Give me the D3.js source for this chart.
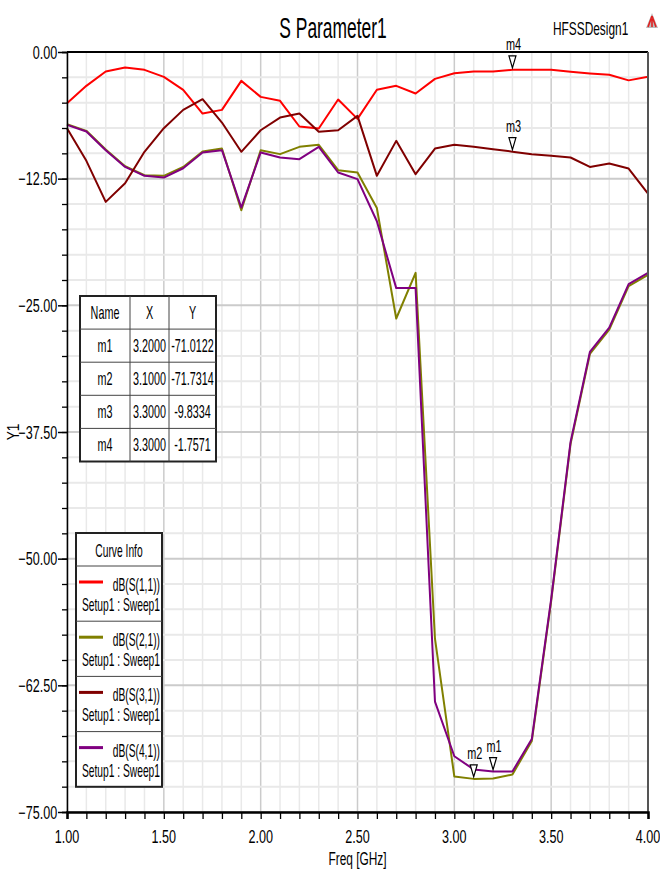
<!DOCTYPE html>
<html>
<head>
<meta charset="utf-8">
<script src="https://cdn.jsdelivr.net/npm/d3@7"></script>
<style>
body { margin: 0; background: #fff; }
text { font-family: "Liberation Sans", Arial, sans-serif; fill: #000; }
</style>
</head>
<body>
<script>
var freq = [1.0, 1.1, 1.2, 1.3, 1.4, 1.5, 1.6, 1.7, 1.8, 1.9, 2.0, 2.1, 2.2, 2.3, 2.4, 2.5,
            2.6, 2.7, 2.8, 2.9, 3.0, 3.1, 3.2, 3.3, 3.4, 3.5, 3.6, 3.7, 3.8, 3.9, 4.0];
var s11 = [-5.05, -3.34, -1.92, -1.53, -1.76, -2.45, -3.73, -6.07, -5.71, -2.85, -4.43, -4.82, -7.35, -7.55, -4.69, -6.6,
           -3.73, -3.34, -4.1, -2.65, -2.09, -1.92, -1.92, -1.7571, -1.76, -1.76, -1.96, -2.12, -2.25, -2.8, -2.45];
var s21 = [-7.12, -7.78, -9.62, -11.27, -12.16, -12.22, -11.34, -9.82, -9.53, -15.61, -9.69, -10.08, -9.36, -9.16, -11.66, -11.89,
           -15.4, -26.3, -21.8, -57.9, -71.5, -71.7314, -71.7, -71.3, -68.0, -54.2, -38.7, -29.8, -27.4, -23.1, -22.0];
var s31 = [-7.52, -10.74, -14.79, -12.95, -9.85, -7.52, -5.71, -4.66, -6.96, -9.85, -7.72, -6.47, -6.07, -7.88, -7.72, -6.3,
           -12.22, -8.77, -12.06, -9.53, -9.16, -9.36, -9.59, -9.8334, -10.08, -10.25, -10.41, -11.34, -11.01, -11.5, -13.97];
var s41 = [-7.19, -7.85, -9.69, -11.34, -12.22, -12.39, -11.47, -9.92, -9.69, -15.35, -9.92, -10.41, -10.58, -9.36, -11.89, -12.55,
           -16.7, -23.3, -23.3, -64.1, -69.5, -70.8, -71.0122, -71.0, -67.8, -54.0, -38.5, -29.6, -27.2, -22.9, -21.8];

var curveNames = ["dB(S(1,1))", "dB(S(2,1))", "dB(S(3,1))", "dB(S(4,1))"];
var curveColors = ["#ff0000", "#808000", "#800000", "#800080"];
var curveData = [s11, s21, s31, s41];

var xLabelTicks = [1.0, 1.5, 2.0, 2.5, 3.0, 3.5, 4.0];
var yLabelTicks = [0, -12.5, -25, -37.5, -50, -62.5, -75];

// markers
var markerNames = ["m1", "m2", "m3", "m4"];
var markerX = [3.2, 3.1, 3.3, 3.3];
var markerY = [-71.0122, -71.7314, -9.8334, -1.7571];

var W = 660, H = 870;
var pL = 67, pR = 648, pT = 52, pB = 812;

var svg = d3.select("body").append("svg")
    .attr("width", W)
    .attr("height", H);

var x = d3.scaleLinear().domain([1, 4]).range([pL, pR]);
var y = d3.scaleLinear().domain([-75, 0]).range([pB, pT]);

// minor grid every 0.1 GHz / 2.5 dB
var xMinor = d3.range(1, 4.001, 0.1);
var yMinor = d3.range(-75, 0.001, 2.5);

function label(g, px, py, s, size, sx, anchor) {
    return g.append("text")
        .attr("transform", "translate(" + px + "," + py + ") scale(" + sx + ",1)")
        .attr("text-anchor", anchor || "start")
        .attr("font-size", size)
        .text(s);
}

var grid = svg.append("g");
grid.selectAll("line.vx")
    .data(xMinor)
    .enter()
    .append("line")
    .attr("x1", function (d) { return x(d); })
    .attr("x2", function (d) { return x(d); })
    .attr("y1", pT)
    .attr("y2", pB)
    .attr("stroke", function (d) { return Math.abs(d * 2 - Math.round(d * 2)) < 1e-6 ? "#cbcbcb" : "#e9e9e9"; })
    .attr("stroke-width", 1.5);
grid.selectAll("line.hy")
    .data(yMinor)
    .enter()
    .append("line")
    .attr("x1", pL)
    .attr("x2", pR)
    .attr("y1", function (d) { return y(d); })
    .attr("y2", function (d) { return y(d); })
    .attr("stroke", function (d) { return Math.abs(d / 12.5 - Math.round(d / 12.5)) < 1e-6 ? "#cbcbcb" : "#e9e9e9"; })
    .attr("stroke-width", 2);

// curves
var line = d3.line()
    .x(function (d, i) { return x(freq[i]); })
    .y(function (d) { return y(d); });

var plotOrder = [1, 3, 0, 2];
svg.append("g").selectAll("path")
    .data(plotOrder)
    .enter()
    .append("path")
    .attr("d", function (k) { return line(curveData[k]); })
    .attr("fill", "none")
    .attr("stroke", function (k) { return curveColors[k]; })
    .attr("stroke-width", 2)
    .attr("stroke-linejoin", "round");

// border
svg.append("line").attr("x1", pL).attr("x2", pR).attr("y1", pT).attr("y2", pT)
    .attr("stroke", "#000").attr("stroke-width", 2);
svg.append("line").attr("x1", pR).attr("x2", pR).attr("y1", pT).attr("y2", pB)
    .attr("stroke", "#555").attr("stroke-width", 2);

// axes
var xAxis = d3.axisBottom(x).tickValues(xMinor).tickSize(7).tickFormat("");
var gx = svg.append("g").attr("transform", "translate(0," + pB + ")").call(xAxis);
gx.select(".domain").attr("stroke-width", 2.5).attr("stroke", "#000");
gx.selectAll(".tick line").attr("stroke-width", 1.3);

var yAxis = d3.axisLeft(y).tickValues(yMinor).tickSize(5).tickFormat("");
var gy = svg.append("g").attr("transform", "translate(" + pL + ",0)").call(yAxis);
gy.select(".domain").attr("stroke-width", 1.5).attr("stroke", "#000");
gy.selectAll(".tick line").attr("stroke-width", 1.3);

var yMajor = d3.axisLeft(y).tickValues(yLabelTicks).tickSize(9).tickFormat(d3.format(".2f"));
var gy2 = svg.append("g").attr("transform", "translate(" + pL + ",0)").call(yMajor);
gy2.select(".domain").remove();
gy2.selectAll(".tick line").attr("stroke-width", 1.5);
gy2.selectAll(".tick text")
    .attr("font-size", 18)
    .attr("font-family", "Liberation Sans, Arial, sans-serif")
    .attr("x", -14)
    .attr("dy", "0.34em")
    .attr("transform", "scale(0.7,1)");

var xl = svg.append("g");
xLabelTicks.forEach(function (d) {
    label(xl, x(d), 843, d3.format(".2f")(d), 18, 0.7, "middle");
});
label(svg, (pL + pR) / 2, 865, "Freq [GHz]", 18, 0.66, "middle");
svg.append("text")
    .attr("transform", "translate(19,432) rotate(-90) scale(0.8,1)")
    .attr("text-anchor", "middle")
    .attr("font-size", 17)
    .text("Y1");

// title
label(svg, 333, 38, "S Parameter1", 30, 0.58, "middle");
label(svg, 553, 35, "HFSSDesign1", 18, 0.66, "start");
// logo
var logo = svg.append("g").attr("transform", "translate(652,13)");
logo.append("path").attr("d", "M0,0 L6,15 L-6,15 Z").attr("fill", "#bbb");
logo.append("path").attr("d", "M0,3 L-4,14 M0,3 L4,14 M0,6 L0,14").attr("stroke", "#e02020").attr("stroke-width", 1.6);

// markers
var mk = svg.append("g");
markerNames.forEach(function (n, i) {
    var px = x(markerX[i]), py = y(markerY[i]) - 2;
    mk.append("path")
        .attr("d", "M" + px + "," + py + " L" + (px - 3.5) + "," + (py - 12) + " L" + (px + 3.5) + "," + (py - 12) + " Z")
        .attr("fill", "#fff")
        .attr("stroke", "#000")
        .attr("stroke-width", 1.2);
    label(mk, px + 1, py - 18, n, 17, 0.64, "middle");
});

// marker table
var tb = svg.append("g");
var tX = 80, tY = 296, colW = [50, 39, 47], rowH = 33.1;
var tableRows = [["Name", "X", "Y"]];
markerNames.forEach(function (n, i) {
    tableRows.push([n, markerX[i].toFixed(4), markerY[i].toFixed(4)]);
});
var tW = d3.sum(colW), tH = rowH * tableRows.length;
tb.append("rect").attr("x", tX).attr("y", tY).attr("width", tW).attr("height", tH)
    .attr("fill", "#fff").attr("stroke", "#222").attr("stroke-width", 2);
var cx = tX;
colW.forEach(function (w, c) {
    if (c > 0) {
        tb.append("line").attr("x1", cx).attr("x2", cx).attr("y1", tY).attr("y2", tY + tH)
            .attr("stroke", "#444").attr("stroke-width", 1);
    }
    tableRows.forEach(function (r, j) {
        label(tb, cx + w / 2, tY + rowH * j + 23, r[c], 18, 0.6, "middle");
    });
    cx += w;
});
tableRows.forEach(function (r, j) {
    if (j > 0) {
        tb.append("line").attr("x1", tX).attr("x2", tX + tW).attr("y1", tY + rowH * j).attr("y2", tY + rowH * j)
            .attr("stroke", "#444").attr("stroke-width", 1);
    }
});

// legend
var lg = svg.append("g");
var lX = 76, lY = 533, lW = 86, headH = 33, lRowH = 55.2;
lg.append("rect").attr("x", lX).attr("y", lY).attr("width", lW).attr("height", headH + lRowH * 4)
    .attr("fill", "#fff").attr("stroke", "#222").attr("stroke-width", 2);
label(lg, lX + lW / 2, lY + 24, "Curve Info", 18, 0.57, "middle");
curveNames.forEach(function (n, i) {
    var ry = lY + headH + lRowH * i;
    lg.append("line").attr("x1", lX).attr("x2", lX + lW).attr("y1", ry).attr("y2", ry)
        .attr("stroke", "#444").attr("stroke-width", 1);
    lg.append("line").attr("x1", lX + 3).attr("x2", lX + 27).attr("y1", ry + 16).attr("y2", ry + 16)
        .attr("stroke", curveColors[i]).attr("stroke-width", 3);
    label(lg, lX + lW - 2, ry + 25, n, 18, 0.57, "end");
    label(lg, lX + lW - 2, ry + 45, "Setup1 : Sweep1", 18, 0.57, "end");
});
</script>
</body>
</html>
